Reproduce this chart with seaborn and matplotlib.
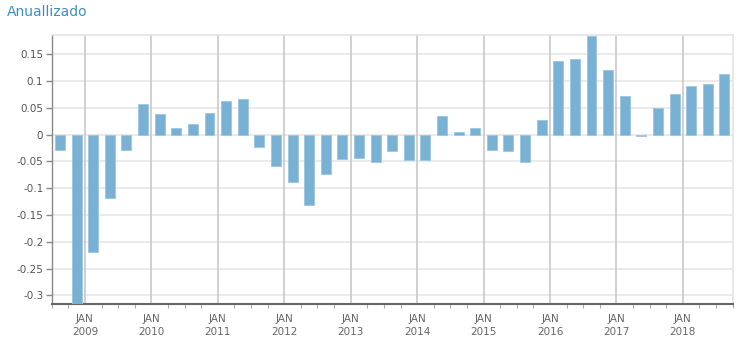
import matplotlib
matplotlib.use("Agg")
import matplotlib.pyplot as plt
import seaborn as sns
import pandas as pd
import numpy as np

# Quarterly data, 2008Q3 .. 2018Q3
quarters = [f"{y}Q{q}" for y in range(2008, 2019) for q in range(1, 5)][2:43]
values = [-0.0286, -0.33, -0.2195, -0.1175, -0.0286, 0.0566, 0.0379, 0.0118,
          0.0193, 0.0398, 0.0628, 0.0665, -0.0236, -0.0591, -0.0877, -0.1306,
          -0.0728, -0.046, -0.0442, -0.0504, -0.0311, -0.0479, -0.0479, 0.0342,
          0.0056, 0.0118, -0.0292, -0.0311, -0.0504, 0.0267, 0.1374, 0.1412,
          0.1850, 0.1206, 0.0715, -0.0019, 0.0491, 0.0752, 0.0908, 0.0945,
          0.1132]
years = list(range(2009, 2019))
year_labels = [f"JAN\n{y}" for y in years]
yticks = [-0.3, -0.25, -0.2, -0.15, -0.1, -0.05, 0, 0.05, 0.1, 0.15]
ytick_labels = ["-0.3", "-0.25", "-0.2", "-0.15", "-0.1", "-0.05", "0", "0.05", "0.1", "0.15"]
title = "Anuallizado"

df = pd.DataFrame({"quarter": quarters, "value": values})

sns.set_theme(style="white")
plt.rcParams["font.family"] = ["DejaVu Sans"]

fig = plt.figure(figsize=(7.54, 3.43), dpi=100)
ax = fig.add_axes([51.7 / 754, 1 - 304 / 343, (732.7 - 51.7) / 754, (304 - 34.7) / 343])

sns.barplot(data=df, x="quarter", y="value", ax=ax, color="#78b1d4",
            saturation=1, width=0.6, edgecolor="#9cc6e0", linewidth=0.6, zorder=3)

ax.set_xlim(-0.5, len(quarters) - 0.5)
ax.set_ylim(-0.316, 0.1866)

# y grid and ticks
ax.set_yticks(yticks)
ax.set_yticklabels(ytick_labels)
for yv in yticks:
    ax.axhline(yv, color="#e6e6e6", lw=1.2, zorder=1)

# x: JAN positions (between Q4 and Q1 bars)
first_year_idx = quarters.index("2009Q1")
jan_pos = [first_year_idx - 0.5 + 4 * i for i in range(len(years))]
ax.set_xticks(jan_pos)
ax.set_xticklabels(year_labels)
for xp in jan_pos:
    ax.axvline(xp, color="#c8c8c8", lw=1.2, zorder=1)
ax.set_xticks([i - 0.5 for i in range(len(quarters) + 1)], minor=True)

ax.tick_params(axis="x", which="major", length=5, width=1, color="#aaaaaa",
               labelsize=7.5, labelcolor="#666666", pad=2)
ax.tick_params(axis="x", which="minor", length=3, width=0.8, color="#aaaaaa",
               bottom=True)
ax.tick_params(axis="y", which="major", length=4, width=1, color="#888888",
               labelsize=7.5, labelcolor="#555555", pad=2, left=True)
for lab in ax.get_xticklabels():
    lab.set_linespacing(1.35)

ax.set_xlabel("")
ax.set_ylabel("")

for side in ["top", "right"]:
    ax.spines[side].set_color("#e4e4e4")
    ax.spines[side].set_linewidth(1.2)
ax.spines["left"].set_color("#888888")
ax.spines["left"].set_linewidth(1)
ax.spines["bottom"].set_color("#666666")
ax.spines["bottom"].set_linewidth(1.5)

fig.text(7 / 754, 1 - 12 / 343, title, color="#3b8ec3", fontsize=10,
         ha="left", va="center")

fig.savefig("out.png", dpi=100, facecolor="white")
